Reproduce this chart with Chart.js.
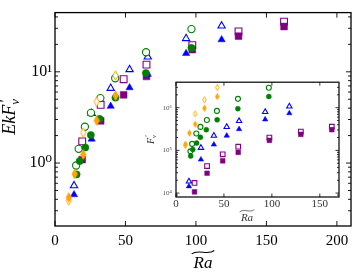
<!DOCTYPE html>
<html>
<head>
<meta charset="utf-8">
<script src="https://cdn.jsdelivr.net/npm/chart.js@4.4.1/dist/chart.umd.min.js"></script>
<style>
  body { margin: 0; background: #fff; }
  #wrap { position: relative; width: 357px; height: 277px; }
  canvas { position: absolute; }
  #main { left: 0; top: 0; }
  #inset { left: 140px; top: 74px; }
</style>
</head>
<body>
<div id="wrap">
  <canvas id="main" width="357" height="277"></canvas>
  <canvas id="inset" width="205" height="152"></canvas>
</div>
<script>
// values
// x = Ra~ ; main y = Ek F'_v ; inset y = F'_v
const orangeOpenX = [9.8, 20, 29.6, 43];
const orangeOpenY = [0.39, 2.15, 4.7, 9.1];
const orangeOpenIn = [1.3e5, 7.2e5, 1.53e6, 2.97e6];
const orangeFillX = [9.8, 14, 20, 29.6, 43];
const orangeFillY = [0.42, 0.76, 1.24, 2.92, 5.5];
const orangeFillIn = [1.4e5, 2.54e5, 4.1e5, 9.7e5, 1.82e6];

const greenOpenX = [15, 16.8, 21.2, 25.5, 32.2, 42.7, 64.6, 96.8];
const greenOpenY = [0.94, 1.43, 2.5, 3.55, 5.15, 8.5, 16.4, 29.4];
const greenOpenIn = [9.5e4, 1.42e5, 2.49e5, 3.55e5, 5.13e5, 8.4e5, 1.61e6, 2.92e6];
const greenFillX = [15.3, 17.5, 21.5, 25.4, 31.6, 42.9, 64.5, 96.8];
const greenFillY = [0.75, 1.05, 1.48, 2.03, 3.05, 5.2, 9.7, 18.3];
const greenFillIn = [7.4e4, 1.05e5, 1.48e5, 2.03e5, 3.05e5, 5.2e5, 9.5e5, 1.82e6];

const blueX = [13.5, 26, 39.5, 52.9, 65.8, 93, 118.2];
const blueOpenY = [0.565, 3.5, 6.6, 10.6, 14.6, 23.2, 31.9];
const blueOpenIn = [1.88e4, 1.15e5, 2.21e5, 3.55e5, 4.87e5, 7.95e5, 1.07e6];
const blueFillY = [0.45, 1.83, 4.2, 6.7, 9.4, 15.9, 22.5];
const blueFillIn = [1.44e4, 6.1e4, 1.37e5, 2.21e5, 3.14e5, 5.3e5, 7.4e5];

const purpleX = [19.3, 32.4, 48.7, 64.9, 97.4, 130.2, 162.5];
const purpleOpenY = [1.73, 4.35, 8.3, 12.0, 19.6, 27.8, 35.5];
const purpleOpenIn = [1.73e4, 4.3e4, 8.1e4, 1.22e5, 2.0e5, 2.75e5, 3.58e5];
const purpleFillY = [1.09, 2.9, 5.6, 8.9, 17.5, 24.6, 31.4];
const purpleFillIn = [1.07e4, 2.92e4, 5.7e4, 9.0e4, 1.72e5, 2.37e5, 3.05e5];

const mainXTicks = [0, 50, 100, 150, 200];
const mainYTicks = [1, 10];
const insetXTicks = [0, 50, 100, 150];
const insetYTicks = [1e4, 1e5, 1e6];

const ORANGE = '#ffa500', GREEN = '#008000', BLUE = '#0000ff', PURPLE = '#800080';
const SERIF = '"Liberation Serif", "DejaVu Serif", serif';
const SUP = ['\u2070', '\u00b9', '\u00b2', '\u00b3', '\u2074', '\u2075', '\u2076'];

function pts(xs, ys) {
  return xs.map((x, i) => ({ x: x, y: ys[i] }));
}

// thin diamond marker (matplotlib 'd')
function thinDiamond(w, h, fill, lw) {
  const c = document.createElement('canvas');
  c.width = Math.ceil(w + 3);
  c.height = Math.ceil(h + 3);
  const g = c.getContext('2d');
  const cx = c.width / 2, cy = c.height / 2;
  g.beginPath();
  g.moveTo(cx, cy - h / 2);
  g.lineTo(cx + w / 2, cy);
  g.lineTo(cx, cy + h / 2);
  g.lineTo(cx - w / 2, cy);
  g.closePath();
  g.fillStyle = fill;
  g.fill();
  g.lineWidth = lw;
  g.strokeStyle = ORANGE;
  g.stroke();
  return c;
}

function series(data, color, shape, open, r, ord, dia) {
  return {
    data: data,
    order: ord,
    showLine: false,
    pointStyle: shape === 'diamond' ? thinDiamond(dia[0], dia[1], open ? '#fff' : ORANGE, 1) : shape,
    pointRadius: r,
    pointBorderWidth: open ? 1.1 : 0.5,
    pointBorderColor: color,
    pointBackgroundColor: open ? '#fff' : color
  };
}

function buildSets(big) {
  const s = big ? { c: 3.6, t: 4.2, q: 4.8, d: [5.2, 9.5] } : { c: 2.5, t: 3.1, q: 3.3, d: [3.5, 6] };
  const rows = big ? [
    [pts(purpleX, purpleOpenY), PURPLE, 'rect', true, s.q],
    [pts(purpleX, purpleFillY), PURPLE, 'rect', false, s.q],
    [pts(blueX, blueOpenY), BLUE, 'triangle', true, s.t],
    [pts(blueX, blueFillY), BLUE, 'triangle', false, s.t],
    [pts(greenOpenX, greenOpenY), GREEN, 'circle', true, s.c],
    [pts(greenFillX, greenFillY), GREEN, 'circle', false, s.c],
    [pts(orangeOpenX, orangeOpenY), ORANGE, 'diamond', true, 4],
    [pts(orangeFillX, orangeFillY), ORANGE, 'diamond', false, 4]
  ] : [
    [pts(purpleX, purpleOpenIn), PURPLE, 'rect', true, s.q],
    [pts(purpleX, purpleFillIn), PURPLE, 'rect', false, s.q],
    [pts(blueX, blueOpenIn), BLUE, 'triangle', true, s.t],
    [pts(blueX, blueFillIn), BLUE, 'triangle', false, s.t],
    [pts(greenOpenX, greenOpenIn), GREEN, 'circle', true, s.c],
    [pts(greenFillX, greenFillIn), GREEN, 'circle', false, s.c],
    [pts(orangeOpenX, orangeOpenIn), ORANGE, 'diamond', true, 3],
    [pts(orangeFillX, orangeFillIn), ORANGE, 'diamond', false, 3]
  ];
  return rows.map((r, i) => series(r[0], r[1], r[2], r[3], r[4], rows.length - i, s.d));
}

// minor log positions 2..9 x 10^k inside [min, max]
function logSteps(min, max) {
  const out = [];
  for (let e = Math.floor(Math.log10(min)); e <= Math.ceil(Math.log10(max)); e++) {
    for (let m = 1; m < 10; m++) {
      const v = m * Math.pow(10, e);
      if (v > min * 1.001 && v < max * 0.999) out.push({ v: v, major: m === 1 });
    }
  }
  return out;
}

// box + inward ticks on all four sides
const frame = {
  id: 'frame',
  afterDraw(chart, args, o) {
    const ctx = chart.ctx, a = chart.chartArea;
    const xs = chart.scales.x, ys = chart.scales.y;
    ctx.save();
    ctx.strokeStyle = '#000';
    ctx.lineWidth = o.tickWidth;
    ctx.beginPath();
    o.xTicks.forEach(v => {
      const px = xs.getPixelForValue(v);
      ctx.moveTo(px, a.bottom);
      ctx.lineTo(px, a.bottom - o.major);
      ctx.moveTo(px, a.top);
      ctx.lineTo(px, a.top + o.major);
    });
    logSteps(ys.min, ys.max).forEach(t => {
      const py = ys.getPixelForValue(t.v);
      const len = t.major ? o.major : o.minor;
      ctx.moveTo(a.left, py);
      ctx.lineTo(a.left + len, py);
      ctx.moveTo(a.right, py);
      ctx.lineTo(a.right - len, py);
    });
    ctx.stroke();
    ctx.lineWidth = o.frameWidth;
    ctx.strokeRect(a.left, a.top, a.right - a.left, a.bottom - a.top);
    ctx.restore();
  }
};

// axis titles: Ra with wide tilde, EkF'_v rotated
const titles = {
  id: 'titles',
  afterDraw(chart, args, o) {
    const ctx = chart.ctx;
    ctx.save();
    ctx.fillStyle = o.color;
    ctx.strokeStyle = o.color;

    // x title
    const xt = o.x;
    ctx.font = 'italic ' + xt.size + 'px ' + SERIF;
    ctx.textAlign = 'center';
    ctx.textBaseline = 'alphabetic';
    const w = ctx.measureText('Ra').width;
    ctx.fillText('Ra', xt.cx, xt.base);
    const y0 = xt.base - xt.size * 0.93, hw = w * 0.6, amp = xt.size * 0.1;
    ctx.lineWidth = xt.size / 16;
    ctx.beginPath();
    ctx.moveTo(xt.cx - hw, y0 + amp);
    ctx.bezierCurveTo(xt.cx - hw * 0.4, y0 - amp * 2.2, xt.cx + hw * 0.4, y0 + amp * 2.2, xt.cx + hw, y0 - amp);
    ctx.stroke();

    // y title
    const yt = o.y;
    ctx.translate(yt.base, yt.cy);
    ctx.rotate(-Math.PI / 2);
    ctx.textAlign = 'left';
    ctx.font = 'italic ' + yt.size + 'px ' + SERIF;
    const w1 = ctx.measureText(yt.text).width;
    ctx.font = 'italic ' + Math.round(yt.size * 0.7) + 'px ' + SERIF;
    const w2 = ctx.measureText('v').width;
    const x0 = -(w1 + w2 + yt.size * 0.1) / 2;
    ctx.font = 'italic ' + yt.size + 'px ' + SERIF;
    ctx.fillText(yt.text, x0, 0);
    ctx.font = 'italic ' + Math.round(yt.size * 0.8) + 'px ' + SERIF;
    ctx.fillText("'", x0 + w1 + yt.size * 0.08, -yt.size * 0.3);
    ctx.font = 'italic ' + Math.round(yt.size * 0.7) + 'px ' + SERIF;
    ctx.fillText('v', x0 + w1 + yt.size * 0.0, yt.size * 0.22);
    ctx.restore();
  }
};

function powLabel(v) {
  return '10' + SUP[Math.round(Math.log10(v))];
}

new Chart(document.getElementById('main'), {
  type: 'scatter',
  data: { datasets: buildSets(true) },
  plugins: [frame, titles],
  options: {
    responsive: false,
    animation: false,
    layout: { padding: { top: 6, right: 6, left: 0, bottom: 0 } },
    plugins: {
      legend: { display: false },
      tooltip: { enabled: false },
      frame: { xTicks: mainXTicks, major: 5, minor: 3, tickWidth: 0.9, frameWidth: 1.3 },
      titles: {
        color: '#000',
        x: { cx: 203, base: 268, size: 17 },
        y: { base: 15, cy: 116, size: 18, text: 'EkF' }
      }
    },
    scales: {
      x: {
        type: 'linear', min: 0, max: 210,
        grid: { display: false, drawTicks: false },
        border: { display: false },
        afterBuildTicks: s => { s.ticks = mainXTicks.map(v => ({ value: v })); },
        afterFit: s => { s.height = 51; },
        ticks: { autoSkip: false, maxRotation: 0, padding: 6, color: '#000', font: { family: SERIF, size: 15 } }
      },
      y: {
        type: 'logarithmic', min: 0.204, max: 44.6,
        grid: { display: false, drawTicks: false },
        border: { display: false },
        afterBuildTicks: s => { s.ticks = mainYTicks.map(v => ({ value: v })); },
        afterFit: s => { s.width = 55; },
        ticks: { autoSkip: false, padding: 3, color: '#000', font: { family: SERIF, size: 16 }, callback: powLabel }
      }
    }
  }
});

new Chart(document.getElementById('inset'), {
  type: 'scatter',
  data: { datasets: buildSets(false) },
  plugins: [frame, titles],
  options: {
    responsive: false,
    animation: false,
    layout: { padding: { top: 6, right: 6, left: 0, bottom: 0 } },
    plugins: {
      legend: { display: false },
      tooltip: { enabled: false },
      frame: { xTicks: insetXTicks, major: 3.5, minor: 2, tickWidth: 0.8, frameWidth: 1.2 },
      titles: {
        color: '#333',
        x: { cx: 107, base: 147, size: 11 },
        y: { base: 14, cy: 65, size: 10, text: 'F' }
      }
    },
    scales: {
      x: {
        type: 'linear', min: 0, max: 170,
        grid: { display: false, drawTicks: false },
        border: { display: false },
        afterBuildTicks: s => { s.ticks = insetXTicks.map(v => ({ value: v })); },
        afterFit: s => { s.height = 29; },
        ticks: { autoSkip: false, maxRotation: 0, padding: 1, color: '#333', font: { family: SERIF, size: 11 } }
      },
      y: {
        type: 'logarithmic', min: 8.1e3, max: 3.95e6,
        grid: { display: false, drawTicks: false },
        border: { display: false },
        afterBuildTicks: s => { s.ticks = insetYTicks.map(v => ({ value: v })); },
        afterFit: s => { s.width = 36; },
        ticks: { autoSkip: false, padding: 4, color: '#555', font: { family: SERIF, size: 7 }, callback: powLabel }
      }
    }
  }
});
</script>
</body>
</html>
